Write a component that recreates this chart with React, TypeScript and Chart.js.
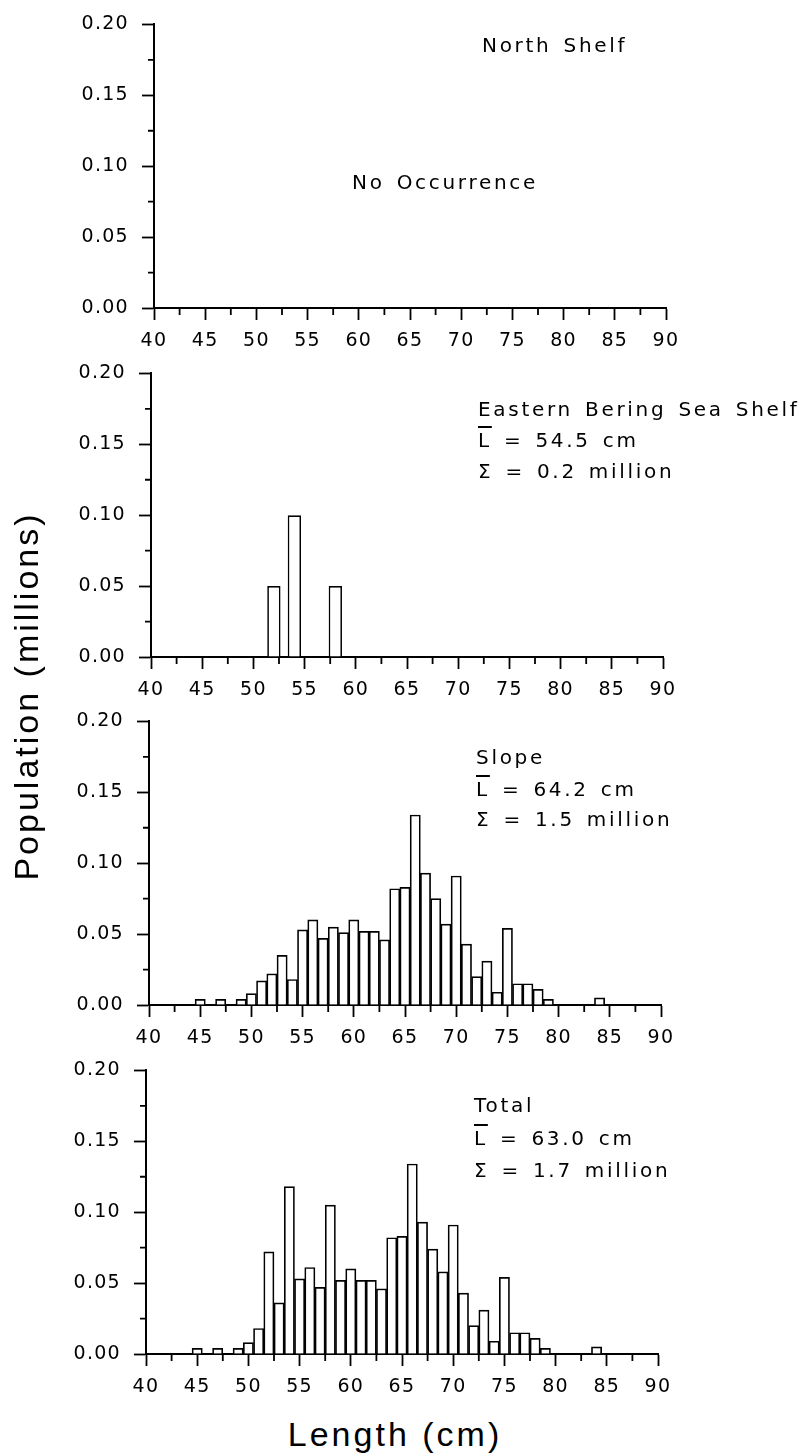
import React, { useEffect, useRef } from 'react';
import { Chart, registerables } from 'chart.js';

Chart.register(...registerables);

const FONT = "'DejaVu Sans', 'Liberation Sans', Arial, sans-serif";
const TITLE_FONT = "'Liberation Sans', Arial, sans-serif";

// ---- Data (length in cm, population in millions) ----
const northLengths: number[] = [];
const northPopulation: number[] = [];

const ebsLengths = [52, 54, 58];
const ebsPopulation = [0.05, 0.10, 0.05];

const slopeLengths = [45, 47, 49, 50, 51, 52, 53, 54, 55, 56, 57, 58, 59, 60, 61, 62, 63, 64, 65, 66, 67, 68, 69, 70, 71, 72, 73, 74, 75, 76, 77, 78, 79, 84];
const slopePopulation = [0.004, 0.004, 0.004, 0.008, 0.017, 0.022, 0.035, 0.018, 0.053, 0.060, 0.047, 0.055, 0.051, 0.060, 0.052, 0.052, 0.046, 0.082, 0.083, 0.134, 0.093, 0.075, 0.057, 0.091, 0.043, 0.020, 0.031, 0.009, 0.054, 0.015, 0.015, 0.011, 0.004, 0.005];

const totalLengths = [45, 47, 49, 50, 51, 52, 53, 54, 55, 56, 57, 58, 59, 60, 61, 62, 63, 64, 65, 66, 67, 68, 69, 70, 71, 72, 73, 74, 75, 76, 77, 78, 79, 84];
const totalPopulation = [0.004, 0.004, 0.004, 0.008, 0.018, 0.072, 0.036, 0.118, 0.053, 0.061, 0.047, 0.105, 0.052, 0.060, 0.052, 0.052, 0.046, 0.082, 0.083, 0.134, 0.093, 0.074, 0.058, 0.091, 0.043, 0.020, 0.031, 0.009, 0.054, 0.015, 0.015, 0.011, 0.004, 0.005];

const X_MIN = 40;
const X_MAX = 90;
const X_STEP = 5;
const X_MINOR = 2.5;
const Y_MIN = 0;
const Y_MAX = 0.2;
const Y_STEP = 0.05;
const Y_MINOR = 0.025;

// ---- Layout ----
const PLOT_W = 512;
const PLOT_H = 291;
const Y_AXIS_W = 80;
const X_AXIS_H = 48;
const CANVAS_H = 360;
const TOP_PAD = 17;
const TICK_SPACING = '1.3px';

const spacingPlugin = {
  id: 'spacing',
  beforeUpdate(chart: any) { chart.ctx.letterSpacing = TICK_SPACING; },
  beforeDraw(chart: any) { chart.ctx.letterSpacing = TICK_SPACING; },
};

const minorTicksPlugin = {
  id: 'minorTicks',
  afterDraw(chart: any) {
    const { ctx, chartArea, scales } = chart;
    const x = scales.x;
    const y = scales.y;
    ctx.save();
    ctx.strokeStyle = '#000';
    ctx.lineWidth = 1.8;
    ctx.beginPath();
    const nx = Math.round((X_MAX - X_MIN) / X_MINOR);
    for (let k = 1; k < nx; k += 2) {
      const px = x.getPixelForValue(X_MIN + k * X_MINOR);
      ctx.moveTo(px, chartArea.bottom);
      ctx.lineTo(px, chartArea.bottom + 7);
    }
    const ny = Math.round((Y_MAX - Y_MIN) / Y_MINOR);
    for (let k = 1; k < ny; k += 2) {
      const py = y.getPixelForValue(Y_MIN + k * Y_MINOR);
      ctx.moveTo(chartArea.left, py);
      ctx.lineTo(chartArea.left - 6, py);
    }
    ctx.stroke();
    ctx.restore();
  },
};

type PanelProps = {
  lengths: number[];
  values: number[];
  plotTop: number;
  plotLeft: number;
  barPercentage: number;
};

function Panel({ lengths, values, plotTop, plotLeft, barPercentage }: PanelProps) {
  const ref = useRef<HTMLCanvasElement>(null);
  useEffect(() => {
    const canvas = ref.current;
    if (!canvas) return;
    const tickFont = { family: FONT, size: 19 };
    const chart = new Chart(canvas, {
      type: 'bar',
      data: {
        datasets: [
          {
            data: lengths.map((x, i) => ({ x, y: values[i] })),
            backgroundColor: '#fff',
            borderColor: '#000',
            borderWidth: 1.7,
            borderSkipped: 'start',
            barPercentage,
            categoryPercentage: 1,
          } as any,
        ],
      },
      options: {
        animation: false,
        responsive: false,
        devicePixelRatio: 1,
        events: [],
        layout: {
          padding: {
            top: TOP_PAD,
            left: plotLeft - Y_AXIS_W,
            right: 804 - plotLeft - PLOT_W,
            bottom: CANVAS_H - TOP_PAD - PLOT_H - X_AXIS_H,
          },
        },
        plugins: {
          legend: { display: false },
          tooltip: { enabled: false },
          title: { display: false },
        },
        scales: {
          x: {
            type: 'linear',
            min: X_MIN,
            max: X_MAX,
            offset: false,
            afterFit: (s: any) => { s.height = X_AXIS_H; },
            border: { display: true, color: '#000', width: 2 },
            grid: {
              display: true,
              drawOnChartArea: false,
              drawTicks: true,
              tickLength: 12,
              tickColor: '#000',
              tickWidth: 1.8,
              offset: false,
            },
            ticks: {
              stepSize: X_STEP,
              autoSkip: false,
              maxRotation: 0,
              padding: 10,
              color: '#000',
              font: tickFont,
              callback: (v: any) => String(Math.round(Number(v))),
            },
          },
          y: {
            type: 'linear',
            min: Y_MIN,
            max: Y_MAX,
            afterFit: (s: any) => { s.width = Y_AXIS_W; },
            border: { display: true, color: '#000', width: 2 },
            grid: {
              display: true,
              drawOnChartArea: false,
              drawTicks: true,
              tickLength: 12,
              tickColor: '#000',
              tickWidth: 1.8,
            },
            ticks: {
              stepSize: Y_STEP,
              autoSkip: false,
              padding: 13,
              color: '#000',
              font: tickFont,
              callback: (v: any) => Number(v).toFixed(2),
            },
          },
        },
      } as any,
      plugins: [spacingPlugin, minorTicksPlugin],
    });
    return () => chart.destroy();
  }, [lengths, values, plotTop, plotLeft, barPercentage]);

  return (
    <canvas
      ref={ref}
      width={804}
      height={CANVAS_H}
      style={{ position: 'absolute', left: 0, top: plotTop - TOP_PAD, width: 804, height: CANVAS_H }}
    />
  );
}

const PANELS = [
  { key: 'north', lengths: northLengths, values: northPopulation, plotTop: 17, plotLeft: 154, barPercentage: 1 },
  { key: 'ebs', lengths: ebsLengths, values: ebsPopulation, plotTop: 366, plotLeft: 151, barPercentage: 0.65 },
  { key: 'slope', lengths: slopeLengths, values: slopePopulation, plotTop: 714, plotLeft: 149, barPercentage: 1 },
  { key: 'total', lengths: totalLengths, values: totalPopulation, plotTop: 1063, plotLeft: 146, barPercentage: 1 },
];

const noteStyle: React.CSSProperties = {
  position: 'absolute',
  fontFamily: FONT,
  fontSize: 20,
  lineHeight: '24px',
  letterSpacing: '2.7px',
  wordSpacing: '3px',
  whiteSpace: 'nowrap',
  color: '#000',
};

const Lbar = () => (
  <span style={{ textDecoration: 'overline', textDecorationThickness: '1.5px' }}>L</span>
);

function Note({ left, cy, children }: { left: number; cy: number; children: React.ReactNode }) {
  return <div style={{ ...noteStyle, left, top: cy - 12 }}>{children}</div>;
}

export default function App() {
  return (
    <div style={{ position: 'absolute', left: 0, top: 0, width: 804, height: 1456, background: '#fff', overflow: 'hidden' }}>
      {PANELS.map((p) => (
        <Panel key={p.key} lengths={p.lengths} values={p.values} plotTop={p.plotTop} plotLeft={p.plotLeft} barPercentage={p.barPercentage} />
      ))}

      <Note left={482} cy={45}>North Shelf</Note>
      <Note left={352} cy={182}>No Occurrence</Note>

      <Note left={478} cy={409}>Eastern Bering Sea Shelf</Note>
      <Note left={478} cy={440}><Lbar /> = 54.5 cm</Note>
      <Note left={478} cy={471}>Σ = 0.2 million</Note>

      <Note left={476} cy={757}>Slope</Note>
      <Note left={476} cy={789}><Lbar /> = 64.2 cm</Note>
      <Note left={476} cy={819}>Σ = 1.5 million</Note>

      <Note left={474} cy={1105}>Total</Note>
      <Note left={474} cy={1138}><Lbar /> = 63.0 cm</Note>
      <Note left={474} cy={1170}>Σ = 1.7 million</Note>

      <div
        style={{
          position: 'absolute',
          left: 26 - 250,
          top: 696 - 20,
          width: 500,
          height: 40,
          lineHeight: '40px',
          textAlign: 'center',
          fontFamily: TITLE_FONT,
          fontSize: 34,
          letterSpacing: '3px',
          whiteSpace: 'nowrap',
          transform: 'rotate(-90deg)',
          transformOrigin: 'center',
          color: '#000',
        }}
      >
        Population (millions)
      </div>

      <div
        style={{
          position: 'absolute',
          left: 395 - 250,
          top: 1414,
          width: 500,
          lineHeight: '40px',
          textAlign: 'center',
          fontFamily: TITLE_FONT,
          fontSize: 34,
          letterSpacing: '3px',
          whiteSpace: 'nowrap',
          color: '#000',
        }}
      >
        Length (cm)
      </div>
    </div>
  );
}
